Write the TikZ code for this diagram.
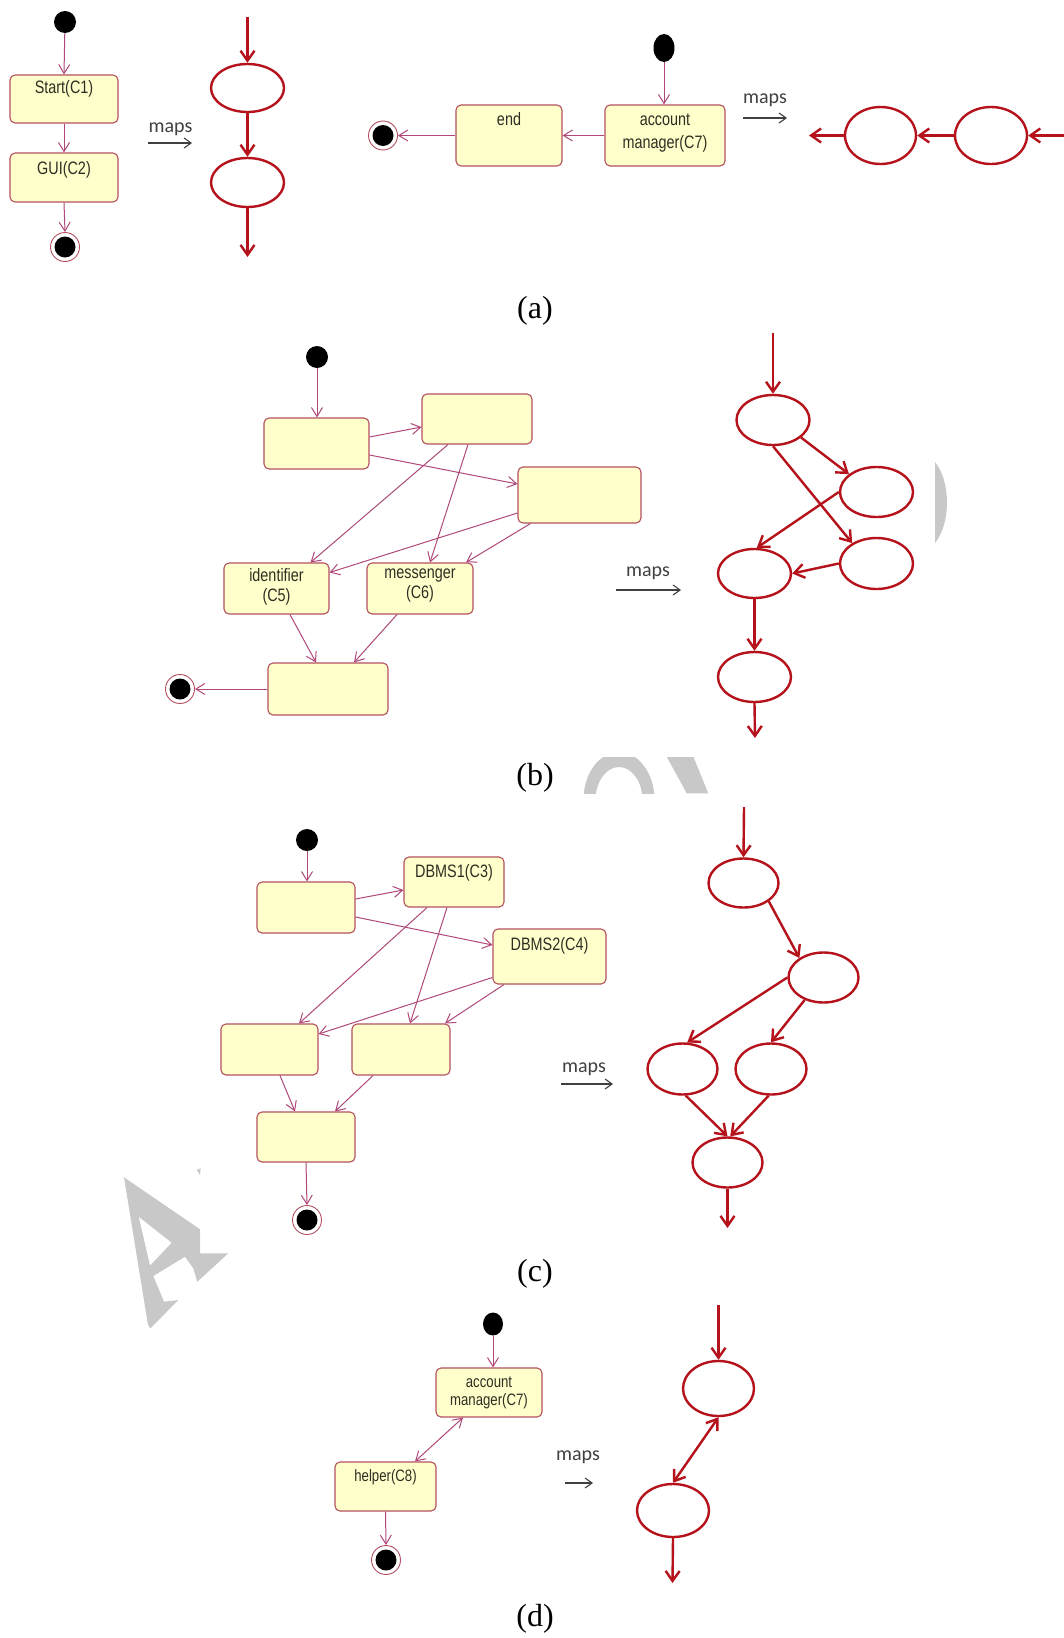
\documentclass[tikz,border=0pt]{standalone}
\usepackage{fontspec}
\usetikzlibrary{arrows.meta,shapes.geometric,calc}
\newfontfamily\umlfont[FakeStretch=0.8]{Liberation Sans}
\newfontfamily\mapsfont{Carlito}
\newfontfamily\capfont{Liberation Serif}
\definecolor{boxfill}{HTML}{FFFFCC}
\definecolor{boxline}{HTML}{B4505F}
\definecolor{umlarrow}{HTML}{B0487A}
\definecolor{redg}{HTML}{B5121B}
\definecolor{mapsgray}{HTML}{404040}
\definecolor{wmark}{HTML}{C8C8C8}
\definecolor{umltext}{HTML}{2E2E22}
\begin{document}
\begin{tikzpicture}[x=1pt,y=-1pt,
  umlbox/.style={draw=boxline, fill=boxfill, rounded corners=5pt, line width=1.1pt, inner sep=0pt},
  umltxt/.style={font=\umlfont\fontsize{18}{21}\selectfont, text=umltext, inner sep=2pt, align=center, anchor=north},
  umlsmall/.style={font=\umlfont\fontsize{16.5}{18}\selectfont, text=umltext, inner sep=2pt, align=center, anchor=north},
  umlarr/.style={draw=umlarrow, line width=1pt, -{Straight Barb[length=9pt,width=11pt]}},
  umlboth/.style={draw=umlarrow, line width=1pt, {Straight Barb[length=9pt,width=11pt]}-{Straight Barb[length=9pt,width=11pt]}},
  initst/.style={circle, fill=black, minimum size=22pt, inner sep=0pt},
  finst/.style={circle, draw=boxline, line width=0.9pt, fill=white, minimum size=29pt, inner sep=0pt,
     path picture={\fill[black] (path picture bounding box.center) circle (10.5pt);}},
  redell/.style={ellipse, draw=redg, line width=2.4pt, inner sep=0pt},
  redarr/.style={draw=redg, line width=2.4pt, -{Straight Barb[length=10pt,width=14pt]}},
  redboth/.style={draw=redg, line width=2.4pt, {Straight Barb[length=10pt,width=14pt]}-{Straight Barb[length=10pt,width=14pt]}},
  mapst/.style={font=\mapsfont\fontsize{20}{24}\selectfont, text=mapsgray, inner sep=0pt, anchor=base},
  mapsarr/.style={draw=mapsgray, line width=1.1pt, -{Straight Barb[length=7pt,width=10pt]}},
  capt/.style={font=\capfont\fontsize{32}{36}\selectfont, text=black, inner sep=0pt}
]
\useasboundingbox[fill=white] (0,0) rectangle (1064,1638);

% ---------- watermark fragments ----------
\fill[wmark, even odd rule] (124,1177.3) -- (200,1229.3) -- (200,1253.3) -- (228.3,1253.3) -- (197.3,1281.7)
  -- (193.3,1268.3) -- (185,1256.7) -- (153.3,1276) -- (164,1301.7) -- (178.3,1300) -- (150,1328.7)
  -- (147.7,1323.3) -- cycle
  (138.7,1216.7) -- (171.7,1242.7) -- (150,1265.7) -- cycle;
\fill[wmark] (196.7,1170) -- (200.7,1168.3) -- (200,1175) -- cycle;
\begin{scope}
  \clip (575,757) rectangle (720,793.3);
  \fill[wmark, even odd rule] (619,800) ellipse [x radius=35.5, y radius=48]
                               (619,800) ellipse [x radius=23.5, y radius=33];
  \fill[wmark] (666.7,756.7) -- (693.3,756.7) -- (708.3,793.3) -- (686.7,793.3) -- cycle;
\end{scope}
\fill[wmark] (935,462) .. controls (951,482) and (951,523) .. (935,543) -- cycle;

% ---------- (a) left ----------
\node[initst] (ai1) at (65,22) {};
\node[umlbox, minimum width=108, minimum height=48] (a1) at (64,99) {};
\node[umltxt] (a1t) at ([yshift=-4pt]a1.north) {Start(C1)};
\node[umlbox, minimum width=108, minimum height=49] (a2) at (64,177.5) {};
\node[umltxt] (a2t) at ([yshift=-7pt]a2.north) {GUI(C2)};
\node[finst] (af1) at (65,247) {};
\draw[umlarr] (ai1) -- (a1.north);
\draw[umlarr] (a1.south) -- (a2.north);
\draw[umlarr] (a2.south) -- (af1.north);

\node[mapst] (m1) at (170.5,132) {maps};
\coordinate (m1a) at (148,143); \coordinate (m1b) at (192,143);
\draw[mapsarr] (m1a) -- (m1b);

\node[redell, minimum width=73, minimum height=48] (ra1) at (247.5,88) {};
\node[redell, minimum width=73, minimum height=49] (ra2) at (247.5,182.5) {};
\coordinate (ra0) at (247.5,17); \coordinate (raout) at (247.5,257);
\draw[redarr] (ra0) -- (ra1.north);
\draw[redarr] (ra1.south) -- (ra2.north);
\draw[redarr] (ra2.south) -- (raout);

% ---------- (a) right ----------
\node[initst, ellipse, minimum width=21, minimum height=28] (ai2) at (664,48) {};
\node[umlbox, minimum width=120, minimum height=61] (acc) at (665,135.5) {};
\node[umltxt, font=\umlfont\fontsize{18}{23}\selectfont] (acct) at ([yshift=-7pt]acc.north) {account\\manager(C7)};
\node[umlbox, minimum width=106, minimum height=61] (endb) at (509,135.5) {};
\node[umltxt] (endt) at ([yshift=-6pt]endb.north) {end};
\node[finst] (af2) at (383,135.5) {};
\draw[umlarr] (ai2) -- (ai2 |- acc.north);
\draw[umlarr] (acc.west) -- (endb.east);
\draw[umlarr] (endb.west) -- (af2.east);

\node[mapst] (m2) at (765,103) {maps};
\coordinate (m2a) at (743,118); \coordinate (m2b) at (787,118);
\draw[mapsarr] (m2a) -- (m2b);

\node[redell, minimum width=71, minimum height=57] (ra3) at (880.5,135.5) {};
\node[redell, minimum width=72, minimum height=57] (ra4) at (991,135.5) {};
\coordinate (ra4in) at (1064,135.5); \coordinate (ra3out) at (809,135.5);
\draw[redarr] (ra4in) -- (ra4.east);
\draw[redarr] (ra4.west) -- (ra3.east);
\draw[redarr] (ra3.west) -- (ra3out);

\node[capt] (capa) at (535,311) {(a)};

% ---------- (b) ----------
\node[initst] (bi) at (317,357) {};
\node[umlbox, minimum width=105, minimum height=51] (b1) at (316.5,443.5) {};
\node[umlbox, minimum width=110, minimum height=50] (b2) at (477,419) {};
\node[umlbox, minimum width=123, minimum height=56] (b3) at (579.5,495) {};
\node[umlbox, minimum width=105, minimum height=51] (b4) at (276.5,588.5) {};
\node[umltxt, font=\umlfont\fontsize{18}{20}\selectfont] (b4t) at ([yshift=-4pt]b4.north) {identifier\\(C5)};
\node[umlbox, minimum width=106, minimum height=51] (b5) at (420,588.5) {};
\node[umltxt, font=\umlfont\fontsize{18}{20}\selectfont] (b5t) at ([yshift=-4pt]b5.north) {messenger\\(C6)};
\node[umlbox, minimum width=120, minimum height=52] (b6) at (328,689) {};
\node[finst] (bf) at (180,689) {};
\draw[umlarr] (bi) -- (bi |- b1.north);
\draw[umlarr] ([yshift=6.5pt]b1.east) -- ([yshift=-8pt]b2.west);
\draw[umlarr] ([yshift=-11.5pt]b1.east) -- ([yshift=11pt]b3.west);
\draw[umlarr] ([xshift=-29pt]b2.south) -- ([xshift=34pt]b4.north);
\draw[umlarr] ([xshift=-9pt]b2.south) -- ([xshift=10pt]b5.north);
\draw[umlarr] ([yshift=-18pt]b3.west) -- ([yshift=16pt]b4.east);
\draw[umlarr] ([xshift=-49pt]b3.south) -- ([xshift=46pt]b5.north);
\draw[umlarr] ([xshift=13.5pt]b4.south) -- ([xshift=-12pt]b6.north);
\draw[umlarr] ([xshift=-23pt]b5.south) -- ([xshift=26pt]b6.north);
\draw[umlarr] (b6.west) -- (bf.east);

\node[mapst] (m3) at (648,576) {maps};
\coordinate (m3a) at (616,590); \coordinate (m3b) at (681,590);
\draw[mapsarr] (m3a) -- (m3b);

\node[redell, minimum width=73, minimum height=50] (e1) at (773,420) {};
\node[redell, minimum width=73, minimum height=50] (e2) at (876.5,492) {};
\node[redell, minimum width=73, minimum height=51] (e3) at (876.5,563.5) {};
\node[redell, minimum width=73, minimum height=49] (e4) at (754.5,573.5) {};
\node[redell, minimum width=73, minimum height=50] (e5) at (754.5,677) {};
\coordinate (e0) at (773,333); \coordinate (eout) at (755,738);
\draw[redarr] (e0) -- (e1.north);
\draw[redarr] (e1.-32) -- (e2.147);
\draw[redarr] (e1.south) -- (e3.140);
\draw[redarr] (e2.west) -- (e4.85);
\draw[redarr] (e3.west) -- (e4.east);
\draw[redarr] (e4.south) -- (e5.north);
\draw[redarr] (e5.south) -- (eout);

\node[capt] (capb) at (535,778) {(b)};

% ---------- (c) ----------
\node[initst] (ci) at (307,840) {};
\node[umlbox, minimum width=98, minimum height=51] (c1) at (306,907.5) {};
\node[umlbox, minimum width=100, minimum height=50] (c3) at (454,882) {};
\node[umltxt] (c3t) at ([yshift=-6pt]c3.north) {DBMS1(C3)};
\node[umlbox, minimum width=113, minimum height=55] (c4) at (549.5,956.5) {};
\node[umltxt] (c4t) at ([yshift=-7pt]c4.north) {DBMS2(C4)};
\node[umlbox, minimum width=97, minimum height=51] (c5) at (269.5,1049.5) {};
\node[umlbox, minimum width=98, minimum height=51] (c6) at (401,1049.5) {};
\node[umlbox, minimum width=98, minimum height=50] (c7) at (306,1137) {};
\node[finst] (cf) at (307,1220) {};
\draw[umlarr] (ci) -- (ci |- c1.north);
\draw[umlarr] ([yshift=8.5pt]c1.east) -- ([yshift=-8pt]c3.west);
\draw[umlarr] ([yshift=-9.5pt]c1.east) -- ([yshift=11.5pt]c4.west);
\draw[umlarr] ([xshift=-27pt]c3.south) -- ([xshift=29.5pt]c5.north);
\draw[umlarr] ([xshift=-7pt]c3.south) -- ([xshift=9pt]c6.north);
\draw[umlarr] ([yshift=-21pt]c4.west) -- ([yshift=15.5pt]c5.east);
\draw[umlarr] ([xshift=-45.5pt]c4.south) -- ([xshift=44pt]c6.north);
\draw[umlarr] ([xshift=10.5pt]c5.south) -- ([xshift=-11pt]c7.north);
\draw[umlarr] ([xshift=-28pt]c6.south) -- ([xshift=29pt]c7.north);
\draw[umlarr] (c7.south) -- (cf.north);

\node[mapst] (m4) at (584,1072) {maps};
\coordinate (m4a) at (561,1084); \coordinate (m4b) at (613,1084);
\draw[mapsarr] (m4a) -- (m4b);

\node[redell, minimum width=70, minimum height=49] (f1) at (743.5,883) {};
\node[redell, minimum width=70, minimum height=50] (f2) at (823.5,977.5) {};
\node[redell, minimum width=70, minimum height=51] (f3) at (682.5,1069) {};
\node[redell, minimum width=71, minimum height=51] (f4) at (771,1069) {};
\node[redell, minimum width=70, minimum height=50] (f5) at (727.5,1162.5) {};
\coordinate (f0) at (744,807); \coordinate (fout) at (727.5,1228);
\draw[redarr] (f0) -- (f1.north);
\draw[redarr] (f1.-36) -- (f2.141);
\draw[redarr] (f2.west) -- (f3.80);
\draw[redarr] (f2.-130) -- (f4.north);
\draw[redarr] (f3.-83) -- (f5.north);
\draw[redarr] (f4.-95) -- (f5.84);
\draw[redarr] (f5.south) -- (fout);

\node[capt] (capc) at (535,1274) {(c)};

% ---------- (d) ----------
\node[initst, ellipse, minimum width=20, minimum height=23] (di) at (493,1324) {};
\node[umlbox, minimum width=106, minimum height=49] (d7) at (489,1392.5) {};
\node[umlsmall] (d7t) at ([yshift=-7pt]d7.north) {account\\manager(C7)};
\node[umlbox, minimum width=101, minimum height=49] (d8) at (385.5,1486.5) {};
\node[umlsmall] (d8t) at ([yshift=-6pt]d8.north) {helper(C8)};
\node[finst] (df) at (386,1560) {};
\draw[umlarr] (di) -- (di |- d7.north);
\draw[umlboth] ([xshift=-26pt]d7.south) -- ([xshift=29.5pt]d8.north);
\draw[umlarr] (d8.south) -- (df.north);

\node[mapst] (m5) at (578,1460) {maps};
\coordinate (m5a) at (565,1483); \coordinate (m5b) at (593,1483);
\draw[mapsarr] (m5a) -- (m5b);

\node[redell, minimum width=71, minimum height=55] (g1) at (718.5,1388.5) {};
\node[redell, minimum width=72, minimum height=53] (g2) at (673,1510.5) {};
\coordinate (g0) at (718.5,1305); \coordinate (gout) at (672.5,1583);
\draw[redarr] (g0) -- (g1.north);
\draw[redboth] (g1.south) -- (g2.north);
\draw[redarr] (g2.south) -- (gout);

\node[capt] (capd) at (535,1619) {(d)};
\end{tikzpicture}
\end{document}
